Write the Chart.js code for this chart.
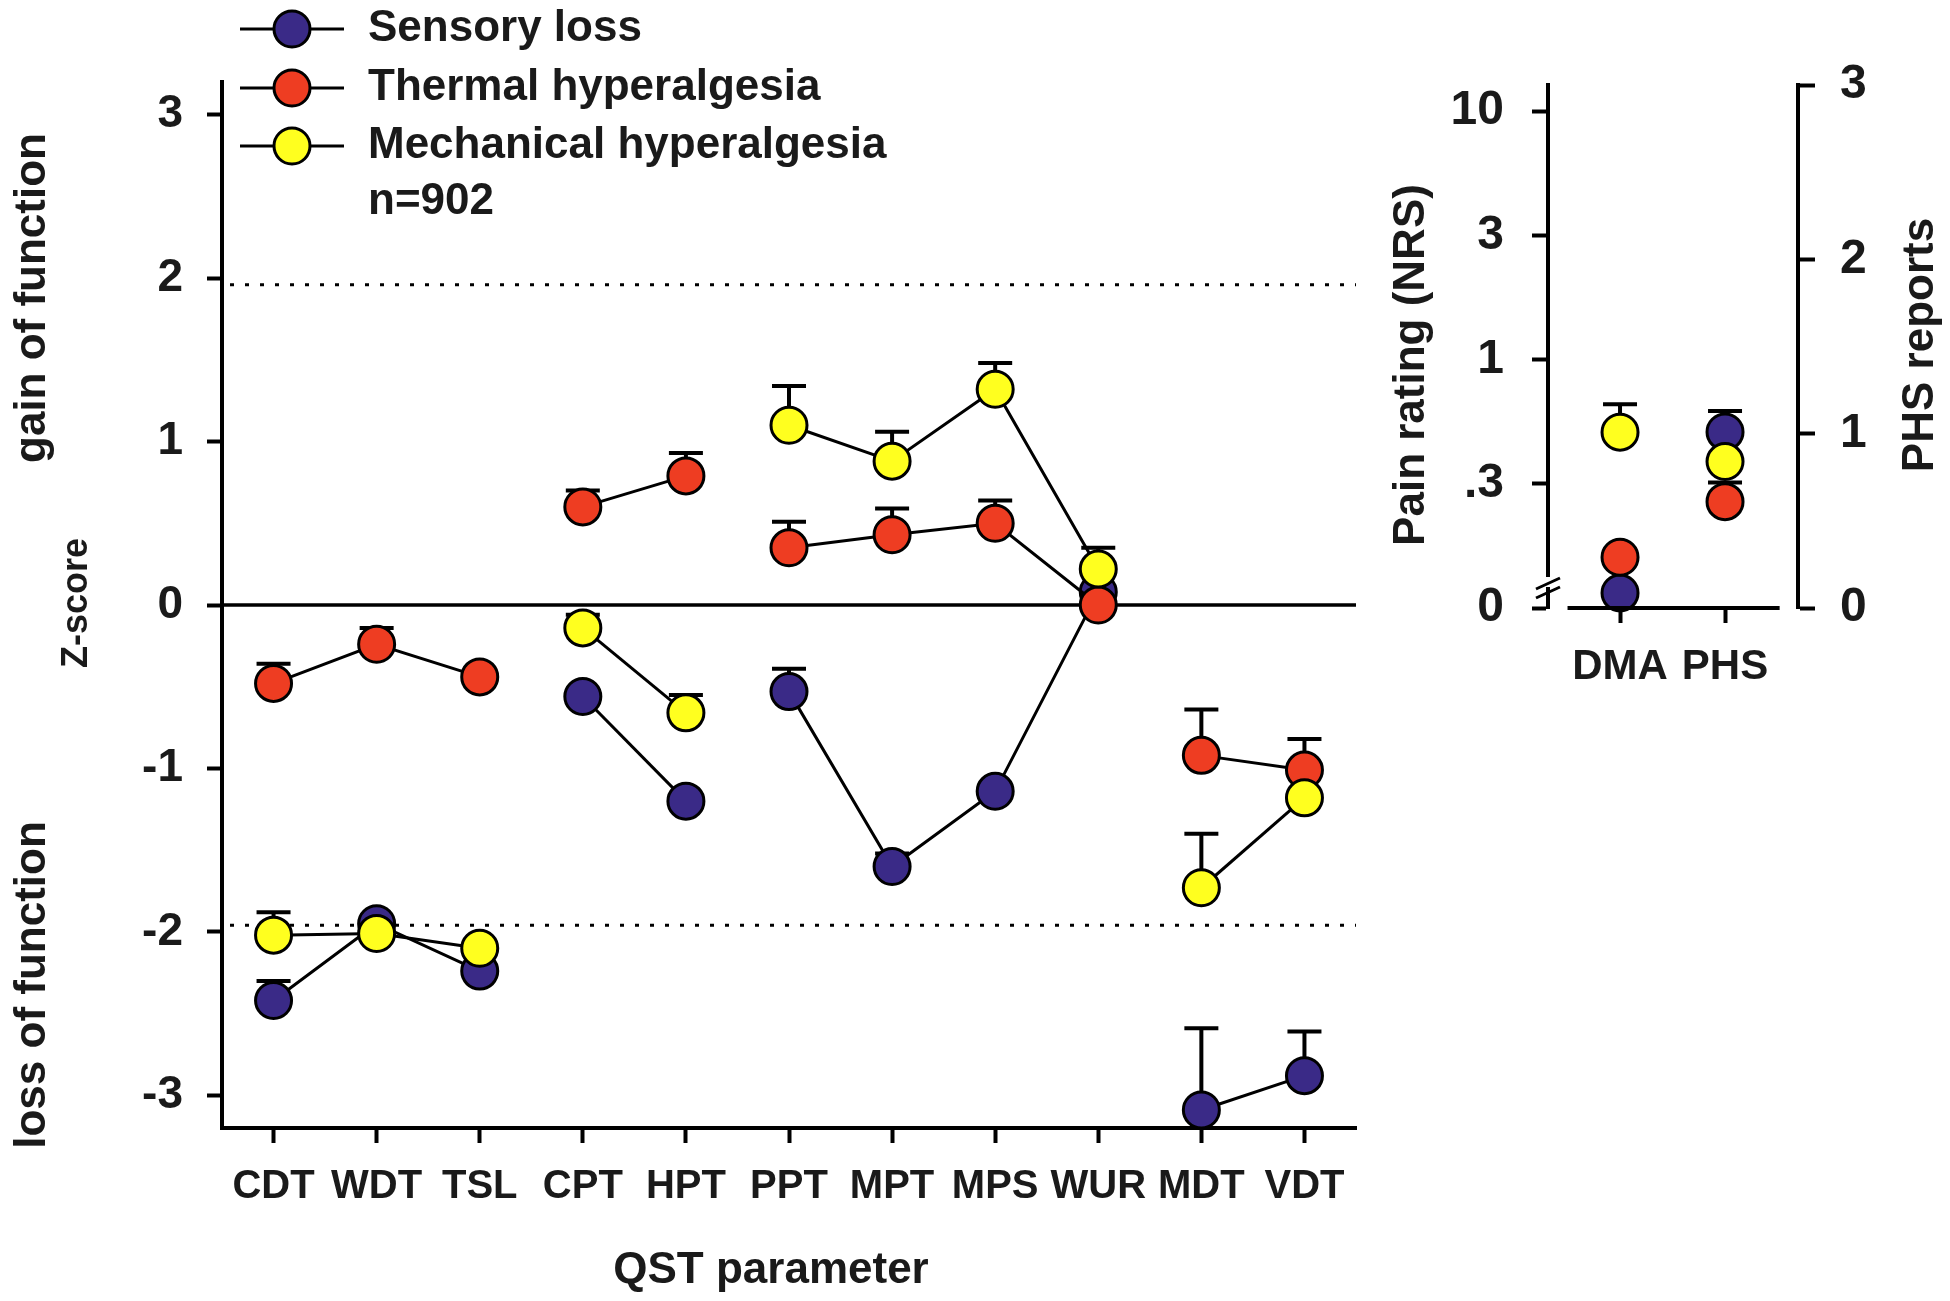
<!DOCTYPE html>
<html>
<head>
<meta charset="utf-8">
<script src="https://cdn.jsdelivr.net/npm/chart.js@4.4.1/dist/chart.umd.min.js"></script>
<style>
  html, body { margin: 0; padding: 0; background: #fff; }
  body { width: 1950px; height: 1301px; position: relative; overflow: hidden; }
  #qstChart { position: absolute; left: 0; top: 0; }
  #painChart { position: absolute; left: 1380px; top: 0; }
</style>
</head>
<body>
<canvas id="qstChart" width="1500" height="1301"></canvas>
<canvas id="painChart" width="570" height="760"></canvas>
<script>
// QST profile data (z-scores, error bar = upper end of SEM)
const qstParams = ["CDT","WDT","TSL","CPT","HPT","PPT","MPT","MPS","WUR","MDT","VDT"];
const groupNames = ["Sensory loss","Thermal hyperalgesia","Mechanical hyperalgesia"];
const groupColors = ["#3a2a87","#ee3d22","#ffff1f"];

const sensoryLoss   = [-2.42, -1.95, -2.24, -0.56, -1.20, -0.53, -1.60, -1.14, 0.08, -3.09, -2.88];
const sensoryErr    = [-2.30, null, null, null, null, -0.39, -1.52, null, null, -2.59, -2.61];
const thermalHyp    = [-0.48, -0.24, -0.44, 0.60, 0.79, 0.35, 0.43, 0.50, 0.00, -0.92, -1.01];
const thermalErr    = [-0.36, -0.14, null, 0.70, 0.93, 0.51, 0.59, 0.64, null, -0.64, -0.82];
const mechanicalHyp = [-2.02, -2.01, -2.10, -0.14, -0.66, 1.10, 0.88, 1.32, 0.22, -1.73, -1.18];
const mechanicalErr = [-1.88, null, null, -0.06, -0.55, 1.34, 1.06, 1.48, 0.35, -1.40, null];

const gapAfter = [2, 4, 8];   // no connecting line TSL-CPT, HPT-PPT, WUR-MDT
const zTicks = [-3, -2, -1, 0, 1, 2, 3];
const cutoff = 1.96;          // dotted lines at +/-1.96

// side panel: DMA pain rating (NRS, log axis with break) and PHS reports
const sideLabels = ["DMA","PHS"];
const nrsTicks = [0.1, 0.316, 1, 3.16, 10];
const nrsTickLabels = ["0", ".3", "1", "3", "10"];
const phsTicks = [0, 1, 2, 3];
const dmaRating = [0.115, 0.16, 0.51];
const dmaErr    = [null, null, 0.66];
const phsReports = [1.01, 0.61, 0.84];
const phsErr     = [1.13, 0.72, 0.98];

const fontFam = "'Liberation Sans', Arial, Helvetica, sans-serif";
const textCol = "#1a1a1a";

//draws the upward error bars behind the markers
const errorBars = {
    id: "errorBars",
    beforeDatasetsDraw(chart) {
        const ctx = chart.ctx;
        ctx.save();
        ctx.strokeStyle = "#000";
        ctx.lineWidth = 4;
        chart.data.datasets.forEach((ds, di) => {
            if (!ds.errorTop) return;
            const meta = chart.getDatasetMeta(di);
            const yScale = chart.scales[meta.yAxisID];
            ds.errorTop.forEach((top, i) => {
                if (top == null) return;
                const pt = meta.data[i];
                const yTop = yScale.getPixelForValue(top);
                ctx.beginPath();
                ctx.moveTo(pt.x, pt.y);
                ctx.lineTo(pt.x, yTop);
                ctx.moveTo(pt.x - 17, yTop);
                ctx.lineTo(pt.x + 17, yTop);
                ctx.stroke();
            });
        });
        ctx.restore();
    }
};

//zero line + dotted significance lines
const refLines = {
    id: "refLines",
    beforeDatasetsDraw(chart) {
        const {ctx, chartArea} = chart;
        const y = chart.scales.y;
        ctx.save();
        ctx.strokeStyle = "#000";
        ctx.lineWidth = 3.5;
        ctx.beginPath();
        ctx.moveTo(chartArea.left, y.getPixelForValue(0));
        ctx.lineTo(chartArea.right, y.getPixelForValue(0));
        ctx.stroke();
        ctx.lineWidth = 3;
        ctx.setLineDash([4, 11]);
        [cutoff, -cutoff].forEach(v => {
            ctx.beginPath();
            ctx.moveTo(chartArea.left + 8, y.getPixelForValue(v));
            ctx.lineTo(chartArea.right, y.getPixelForValue(v));
            ctx.stroke();
        });
        ctx.restore();
    }
};

function vText(ctx, txt, x, y, size) {
    ctx.save();
    ctx.translate(x, y);
    ctx.rotate(-Math.PI / 2);
    ctx.font = "bold " + size + "px " + fontFam;
    ctx.fillStyle = textCol;
    ctx.textAlign = "center";
    ctx.textBaseline = "middle";
    ctx.fillText(txt, 0, 0);
    ctx.restore();
}

//legend, axis titles and the gain/loss notes
const mainText = {
    id: "mainText",
    afterDraw(chart) {
        const ctx = chart.ctx;
        vText(ctx, "gain of function", 33, 298, 44);
        vText(ctx, "loss of function", 33, 985, 44);
        vText(ctx, "Z-score", 77, 603, 36);

        ctx.save();
        ctx.font = "bold 44px " + fontFam;
        ctx.fillStyle = textCol;
        ctx.textAlign = "center";
        ctx.textBaseline = "middle";
        ctx.fillText("QST parameter", 771, 1271);

        const rows = [29, 88, 146];
        ctx.textAlign = "left";
        groupNames.forEach((name, i) => {
            ctx.strokeStyle = "#000";
            ctx.lineWidth = 3;
            ctx.beginPath();
            ctx.moveTo(240, rows[i]);
            ctx.lineTo(344, rows[i]);
            ctx.stroke();
            ctx.beginPath();
            ctx.arc(292, rows[i], 18, 0, Math.PI * 2);
            ctx.fillStyle = groupColors[i];
            ctx.fill();
            ctx.stroke();
            ctx.fillStyle = textCol;
            ctx.fillText(name, 368, rows[i]);
        });
        ctx.fillText("n=902", 368, 202);
        ctx.restore();
    }
};

function qstDataset(i, values, errTop) {
    return {
        label: groupNames[i],
        data: values,
        errorTop: errTop,
        order: 3 - i,
        clip: false,
        borderColor: "#000",
        borderWidth: 3,
        pointRadius: 18,
        pointHoverRadius: 18,
        pointBackgroundColor: groupColors[i],
        pointBorderColor: "#000",
        pointBorderWidth: 3,
        tension: 0,
        segment: {
            borderColor: c => gapAfter.includes(c.p0DataIndex) ? "rgba(0,0,0,0)" : "#000"
        }
    };
}

const tickGrid = {display: true, drawOnChartArea: false, drawTicks: true, tickLength: 15, tickWidth: 4, tickColor: "#000"};
const axisBorder = {display: true, color: "#000", width: 4};

new Chart(document.getElementById("qstChart"), {
    type: "line",
    data: {
        labels: qstParams,
        datasets: [
            qstDataset(0, sensoryLoss, sensoryErr),
            qstDataset(1, thermalHyp, thermalErr),
            qstDataset(2, mechanicalHyp, mechanicalErr)
        ]
    },
    options: {
        responsive: false,
        animation: false,
        events: [],
        layout: {padding: {left: 0, top: 82, right: 144, bottom: 0}},
        plugins: {legend: {display: false}, tooltip: {enabled: false}},
        scales: {
            x: {
                type: "category",
                offset: true,
                grid: Object.assign({offset: false}, tickGrid),
                border: axisBorder,
                ticks: {color: textCol, font: {family: fontFam, size: 40, weight: "bold"}, padding: 20, maxRotation: 0, autoSkip: false},
                afterFit: s => { s.height = 173; }
            },
            y: {
                min: -3.2,
                max: 3.2,
                afterBuildTicks: s => { s.ticks = zTicks.map(v => ({value: v})); },
                grid: tickGrid,
                border: axisBorder,
                ticks: {color: textCol, font: {family: fontFam, size: 46, weight: "bold"}, padding: 24, autoSkip: false},
                afterFit: s => { s.width = 222; }
            }
        }
    },
    plugins: [refLines, errorBars, mainText]
});

//side panel
const sideText = {
    id: "sideText",
    afterDraw(chart) {
        const {ctx, chartArea} = chart;
        const x = chart.scales.x;
        ctx.save();
        // short x axis line, not touching the y axes
        ctx.strokeStyle = "#000";
        ctx.lineWidth = 4;
        ctx.beginPath();
        ctx.moveTo(x.getPixelForValue(-0.5), chartArea.bottom);
        ctx.lineTo(x.getPixelForValue(1.52), chartArea.bottom);
        ctx.stroke();
        // axis break on the NRS axis
        const ax = chartArea.left;
        const yb = chartArea.bottom;
        ctx.fillStyle = "#fff";
        ctx.fillRect(ax - 4, yb - 31, 8, 10);
        ctx.lineWidth = 3;
        ctx.beginPath();
        ctx.moveTo(ax - 12, yb - 19);
        ctx.lineTo(ax + 12, yb - 30);
        ctx.moveTo(ax - 12, yb - 10);
        ctx.lineTo(ax + 12, yb - 21);
        ctx.stroke();
        ctx.restore();
        vText(ctx, "Pain rating (NRS)", 32, 365, 44);
        vText(ctx, "PHS reports", 541, 345, 44);
    }
};

const sideSets = [];
groupNames.forEach((name, i) => {
    const base = {
        label: name,
        order: 3 - i,
        clip: false,
        showLine: false,
        pointRadius: 18,
        pointHoverRadius: 18,
        pointBackgroundColor: groupColors[i],
        pointBorderColor: "#000",
        pointBorderWidth: 3
    };
    sideSets.push(Object.assign({}, base, {data: [{x: 0, y: dmaRating[i]}], errorTop: [dmaErr[i]], yAxisID: "y"}));
    sideSets.push(Object.assign({}, base, {data: [{x: 1, y: phsReports[i]}], errorTop: [phsErr[i]], yAxisID: "y2"}));
});

new Chart(document.getElementById("painChart"), {
    type: "scatter",
    data: {datasets: sideSets},
    options: {
        responsive: false,
        animation: false,
        events: [],
        layout: {padding: {left: 0, top: 85, right: 0, bottom: 0}},
        plugins: {legend: {display: false}, tooltip: {enabled: false}},
        scales: {
            x: {
                type: "linear",
                min: -0.686,
                max: 1.695,
                afterBuildTicks: s => { s.ticks = sideLabels.map((l, i) => ({value: i})); },
                grid: tickGrid,
                border: {display: false},
                ticks: {color: textCol, font: {family: fontFam, size: 42, weight: "bold"}, padding: 19, maxRotation: 0, autoSkip: false,
                        callback: v => sideLabels[v]},
                afterFit: s => { s.height = 152; }
            },
            y: {
                type: "logarithmic",
                position: "left",
                min: 0.1,
                max: 12.73,
                afterBuildTicks: s => { s.ticks = nrsTicks.map(v => ({value: v})); },
                grid: Object.assign({}, tickGrid, {tickLength: 16}),
                border: axisBorder,
                ticks: {color: textCol, font: {family: fontFam, size: 48, weight: "bold"}, padding: 28, autoSkip: false,
                        callback: (v, i) => nrsTickLabels[i]},
                afterFit: s => { s.width = 168; }
            },
            y2: {
                type: "linear",
                position: "right",
                min: 0,
                max: 3,
                afterBuildTicks: s => { s.ticks = phsTicks.map(v => ({value: v})); },
                grid: Object.assign({}, tickGrid, {tickLength: 17}),
                border: axisBorder,
                ticks: {color: textCol, font: {family: fontFam, size: 48, weight: "bold"}, padding: 25, autoSkip: false},
                afterFit: s => { s.width = 152; }
            }
        }
    },
    plugins: [errorBars, sideText]
});
</script>
</body>
</html>
